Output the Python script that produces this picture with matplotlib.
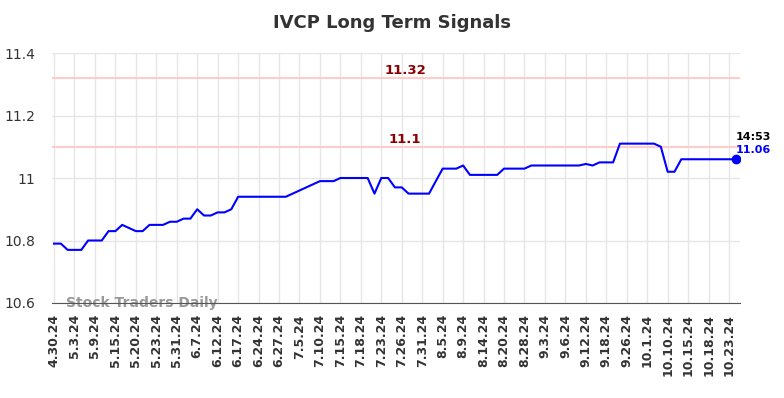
import matplotlib.pyplot as plt

# ---------------------------------------------------------------
# data (one value per trading point)
# ---------------------------------------------------------------
prices = [
    10.79, 10.79, 10.77, 10.77, 10.77, 10.80, 10.80, 10.80, 10.83, 10.83,
    10.85, 10.84, 10.83, 10.83, 10.85, 10.85, 10.85, 10.86, 10.86, 10.87,
    10.87, 10.90, 10.88, 10.88, 10.89, 10.89, 10.90, 10.94, 10.94, 10.94,
    10.94, 10.94, 10.94, 10.94, 10.94, 10.95, 10.96, 10.97, 10.98, 10.99,
    10.99, 10.99, 11.00, 11.00, 11.00, 11.00, 11.00, 10.95, 11.00, 11.00,
    10.97, 10.97, 10.95, 10.95, 10.95, 10.95, 10.99, 11.03, 11.03, 11.03,
    11.04, 11.01, 11.01, 11.01, 11.01, 11.01, 11.03, 11.03, 11.03, 11.03,
    11.04, 11.04, 11.04, 11.04, 11.04, 11.04, 11.04, 11.04, 11.045, 11.04,
    11.05, 11.05, 11.05, 11.11, 11.11, 11.11, 11.11, 11.11, 11.11, 11.10,
    11.02, 11.02, 11.06, 11.06, 11.06, 11.06, 11.06, 11.06, 11.06, 11.06,
    11.06,
]

tick_labels = [
    "4.30.24", "5.3.24", "5.9.24", "5.15.24", "5.20.24", "5.23.24", "5.31.24",
    "6.7.24", "6.12.24", "6.17.24", "6.24.24", "6.27.24", "7.5.24", "7.10.24",
    "7.15.24", "7.18.24", "7.23.24", "7.26.24", "7.31.24", "8.5.24", "8.9.24",
    "8.14.24", "8.20.24", "8.28.24", "9.3.24", "9.6.24", "9.12.24", "9.18.24",
    "9.26.24", "10.1.24", "10.10.24", "10.15.24", "10.18.24", "10.23.24",
]
tick_step = 3

signal_levels = [11.32, 11.1]
signal_labels = ["11.32", "11.1"]

last_time = "14:53"

# ---------------------------------------------------------------
# plot
# ---------------------------------------------------------------
fig = plt.figure(figsize=(7.84, 3.98), dpi=100)
ax = fig.add_axes([0.0663, 0.2387, 0.8775, 0.6281])

x = list(range(len(prices)))
ax.plot(x, prices, color="blue", linewidth=1.5, zorder=3)
ax.plot(x[-1], prices[-1], "o", color="blue", markersize=6, zorder=4)

for lvl, lab in zip(signal_levels, signal_labels):
    ax.axhline(lvl, color="#ffcccc", linewidth=1.5, zorder=2)
    ax.text(51.5, lvl + 0.004, lab, color="#8b0000", fontsize=9.5,
            fontweight="bold", ha="center", va="bottom")

ax.text(x[-1], prices[-1] + 0.072, last_time, color="black", fontsize=8,
        fontweight="bold", ha="left", va="center")
ax.text(x[-1], prices[-1] + 0.031, "{:.2f}".format(prices[-1]), color="blue",
        fontsize=8, fontweight="bold", ha="left", va="center")

ax.text(1.8, 10.6, "Stock Traders Daily", color="#999999",
        fontsize=10, fontweight="bold", ha="left", va="center", zorder=1)

ax.set_xlim(-0.3, 100.6)
ax.set_ylim(10.6, 11.4)
ax.set_yticks([10.6, 10.8, 11.0, 11.2, 11.4])
ax.set_yticklabels(["10.6", "10.8", "11", "11.2", "11.4"])
ax.set_xticks(x[::tick_step][:len(tick_labels)])
ax.set_xticklabels(tick_labels, rotation=90, fontweight="bold")

ax.grid(True, color="#e6e6e6", linewidth=1, zorder=0)
ax.set_axisbelow(True)
for side in ["left", "right", "top"]:
    ax.spines[side].set_visible(False)
ax.spines["bottom"].set_color("#555555")
ax.spines["bottom"].set_zorder(2)
ax.tick_params(axis="both", length=0, colors="#333333", labelsize=9)
ax.tick_params(axis="y", labelsize=10, pad=12)
ax.tick_params(axis="x", pad=8)

fig.suptitle("IVCP Long Term Signals", x=0.5, y=0.965, fontsize=13,
             fontweight="bold", color="#333333")

plt.savefig("out.png", dpi=100)
